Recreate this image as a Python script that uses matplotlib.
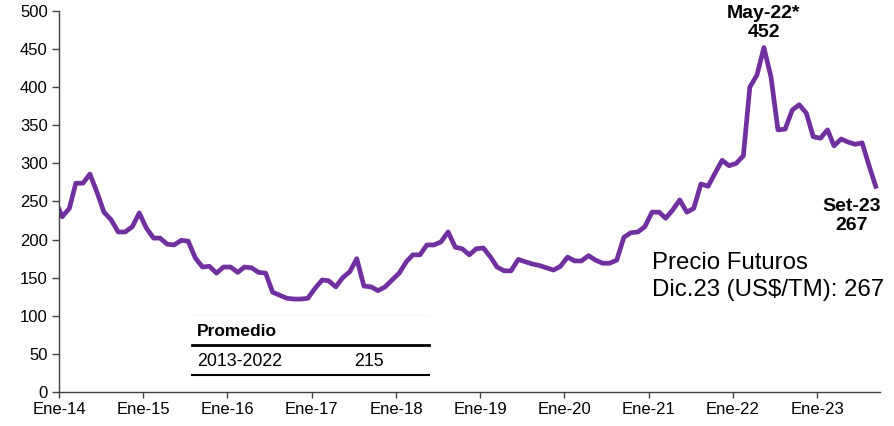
import matplotlib
matplotlib.use("Agg")
import matplotlib.pyplot as plt
import pandas as pd
from matplotlib.lines import Line2D

# Monthly price series (US$/TM), Dec-2013 .. Sep-2023, plotted at mid-month
start_month = "2013-12"
prices = [
    252,
    230, 241, 274, 274, 286, 262, 236, 226, 210, 210, 217, 235,   # 2014
    215, 202, 202, 194, 193, 199, 198, 176, 164, 165, 156, 164,   # 2015
    164, 157, 164, 163, 157, 156, 131, 127, 123, 122, 122, 123,   # 2016
    136, 147, 146, 138, 150, 158, 175, 139, 138, 133, 138, 147,   # 2017
    156, 171, 180, 180, 193, 193, 197, 210, 190, 188, 180, 188,   # 2018
    189, 177, 164, 159, 159, 174, 171, 168, 166, 163, 160, 165,   # 2019
    177, 172, 172, 179, 173, 169, 169, 173, 203, 209, 210, 217,   # 2020
    236, 236, 228, 239, 252, 236, 241, 273, 270, 287, 304, 297,   # 2021
    300, 310, 400, 416, 452, 413, 344, 345, 370, 377, 366, 335,   # 2022
    333, 344, 323, 332, 328, 325, 327, 296, 267,                  # 2023
]

tick_years = [2014, 2015, 2016, 2017, 2018, 2019, 2020, 2021, 2022, 2023]
tick_labels = ["Ene-14", "Ene-15", "Ene-16", "Ene-17", "Ene-18",
               "Ene-19", "Ene-20", "Ene-21", "Ene-22", "Ene-23"]

peak_label = "May-22*"
peak_value = 452
last_label = "Set-23"
last_value = 267

avg_header = "Promedio"
avg_period = "2013-2022"
avg_value = "215"

futures_text = "Precio Futuros\nDic.23 (US$/TM): 267"

PURPLE = "#7030A0"
AXIS = "#404040"

plt.rcParams["font.family"] = ["Liberation Sans", "DejaVu Sans"]

dates = pd.date_range(start_month, periods=len(prices), freq="MS") + pd.Timedelta(days=14)

fig = plt.figure(figsize=(8.95, 4.26), dpi=100)
ax = fig.add_axes([0.0659, 0.0798, 0.9175, 0.8944])

ax.plot(dates, prices, color=PURPLE, lw=3.4, solid_joinstyle="round",
        solid_capstyle="butt", clip_on=True)

ax.set_xlim(pd.Timestamp("2014-01-01"), pd.Timestamp("2023-10-01"))
ax.set_ylim(0, 500)
ax.set_yticks(range(0, 501, 50))
ax.set_xticks([pd.Timestamp(f"{y}-01-01") for y in tick_years])
ax.set_xticklabels(tick_labels)

for side in ("top", "right"):
    ax.spines[side].set_visible(False)
for side in ("left", "bottom"):
    ax.spines[side].set_color(AXIS)
    ax.spines[side].set_linewidth(1.0)
ax.tick_params(axis="y", direction="out", length=5, width=1, color=AXIS,
               labelsize=12, pad=3)
ax.tick_params(axis="x", direction="out", length=4, width=1, color=AXIS,
               labelsize=12, pad=3)

# Peak annotation
peak_idx = prices.index(peak_value)
ax.annotate(f"{peak_label}\n{peak_value}", xy=(dates[peak_idx], peak_value),
            xytext=(0, 7), textcoords="offset pixels", ha="center", va="bottom",
            fontsize=14, fontweight="bold", linespacing=1.12, annotation_clip=False)

# Last value annotation
ax.annotate(f"{last_label}\n{last_value}", xy=(dates[-1], last_value),
            xytext=(-25, -9), textcoords="offset pixels", ha="center", va="top",
            fontsize=14, fontweight="bold", linespacing=1.22, annotation_clip=False)

# Futures price note
ax.text(0.722, 0.304, futures_text, transform=ax.transAxes, ha="left",
        va="center", fontsize=17.3, linespacing=1.3)

# Average table
x0, x1 = 0.162, 0.451
ax.add_line(Line2D([x0, x1], [0.203, 0.203], transform=ax.transAxes,
                   color="#f4f4f4", lw=0.8))
ax.add_line(Line2D([x0, x1], [0.123, 0.123], transform=ax.transAxes,
                   color="black", lw=2.0))
ax.add_line(Line2D([x0, x1], [0.0446, 0.0446], transform=ax.transAxes,
                   color="black", lw=1.5))
ax.text(0.168, 0.158, avg_header, transform=ax.transAxes, ha="left",
        va="center", fontsize=12.5, fontweight="bold")
ax.text(0.168, 0.081, avg_period, transform=ax.transAxes, ha="left",
        va="center", fontsize=12.8)
ax.text(0.378, 0.081, avg_value, transform=ax.transAxes, ha="center",
        va="center", fontsize=12.8)

fig.savefig("out.png", dpi=100)
